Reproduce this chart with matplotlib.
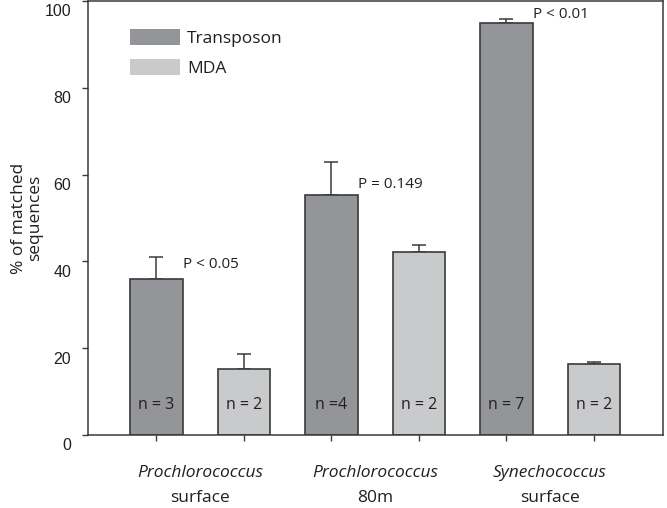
import numpy as np
import matplotlib
matplotlib.use('Agg')
import matplotlib.pyplot as plt
import matplotlib.transforms as mtrans
from matplotlib.patches import Patch

# Data
groups = [('Prochlorococcus', 'surface'), ('Prochlorococcus', '80m'), ('Synechococcus', 'surface')]
transposon = [35.9, 55.4, 95.0]
transposon_err = [5.2, 7.4, 0.9]
mda = [15.2, 42.1, 16.3]
mda_err = [3.4, 1.6, 0.6]
n_trans = ['n = 3', 'n =4', 'n = 7']
n_mda = ['n = 2', 'n = 2', 'n = 2']
p_labels = ['P < 0.05', 'P = 0.149', 'P < 0.01']
p_y = [39.2, 57.7, 97.0]

dark = '#939598'
light = '#c9cacc'
edge = '#3a3a3a'
txt = '#231f20'

fig = plt.figure(figsize=(6.67, 5.08), dpi=100)
ax = fig.add_axes([88/667, 73/508, 575/667, 434/508])

xt = np.arange(3) * 2.0
xm = xt + 1.0
w = 0.6
ax.bar(xt, transposon, w, color=dark, edgecolor=edge, linewidth=1.2, zorder=2)
ax.bar(xm, mda, w, color=light, edgecolor=edge, linewidth=1.2, zorder=2)
z = np.zeros(3)
ax.errorbar(xt, transposon, yerr=[z, transposon_err], fmt='none', ecolor=edge,
            elinewidth=1.1, capsize=5, capthick=1.1, zorder=1)
ax.errorbar(xm, mda, yerr=[z, mda_err], fmt='none', ecolor=edge,
            elinewidth=1.1, capsize=5, capthick=1.1, zorder=1)

fam = ['Open Sans', 'DejaVu Sans']
for i in range(3):
    ax.text(xt[i], 6.9, n_trans[i], ha='center', va='center', fontsize=11.5,
            color=txt, family=fam)
    ax.text(xm[i], 6.9, n_mda[i], ha='center', va='center', fontsize=11.5,
            color=txt, family=fam)
    ax.text(xt[i] + 0.3, p_y[i], p_labels[i], ha='left', va='center',
            fontsize=11, color=txt, family=fam)

ax.set_xlim(-0.78, 5.79)
ax.set_ylim(0, 100)
ax.set_xticks(np.concatenate([xt, xm]))
ax.set_xticklabels([])
ax.set_yticks([0, 20, 40, 60, 80, 100])
ax.set_yticklabels(['0', '20', '40', '60', '80', '100'], family='Liberation Sans',
                   fontsize=11.5, color=txt)
ax.tick_params(axis='both', direction='out', length=4, width=1, color=edge)
ax.tick_params(axis='y', pad=8)
# tick labels sit a little below their ticks in the original
shift = mtrans.ScaledTranslation(0, -0.095, fig.dpi_scale_trans)
for lab in ax.get_yticklabels():
    lab.set_transform(lab.get_transform() + shift)
for s in ax.spines.values():
    s.set_color(edge)
    s.set_linewidth(1.1)

# group labels
for i, (sp, sub) in enumerate(groups):
    xc = (xt[i] + xm[i]) / 2
    ax.text(xc, -8.8, sp, ha='center', va='center', fontsize=12.5, style='italic',
            color=txt, family=fam)
    ax.text(xc, -14.6, sub, ha='center', va='center', fontsize=12.5,
            color=txt, family=fam)

ax.set_ylabel('% of matched\nsequences', fontsize=12.5, color=txt, family=fam,
              linespacing=1.0)
ax.yaxis.set_label_coords(-0.078, 0.5)

# legend
handles = [Patch(facecolor=dark, edgecolor='none', label='Transposon'),
           Patch(facecolor=light, edgecolor='none', label='MDA')]
leg = ax.legend(handles=handles, loc='upper left', bbox_to_anchor=(0.061, 0.952),
                frameon=False, handlelength=2.9, handleheight=1.05,
                labelspacing=0.72, handletextpad=0.4, borderaxespad=0,
                prop={'family': fam, 'size': 12.5})
for t in leg.get_texts():
    t.set_color(txt)

fig.savefig('out.png', dpi=100)
